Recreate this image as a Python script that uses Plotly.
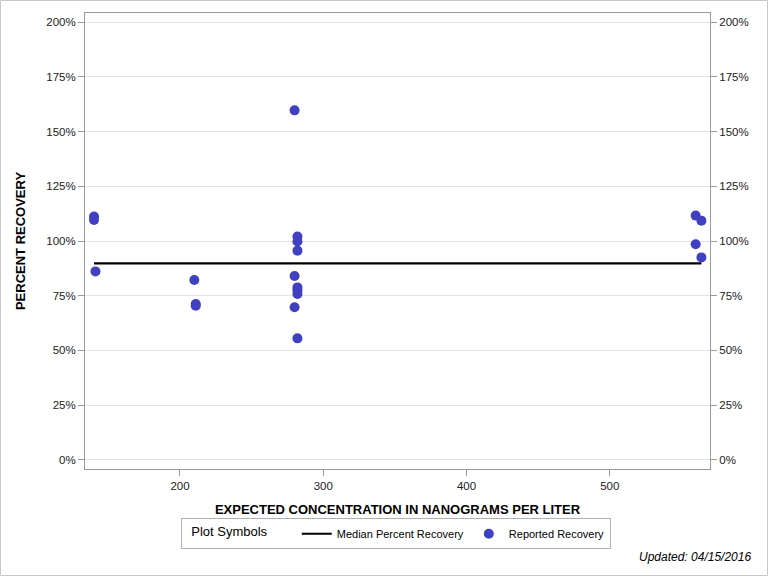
import plotly.graph_objects as go

# Reported recovery data (expected concentration ng/L, percent recovery)
conc = [140, 140, 141, 210, 211, 211, 280, 280, 280, 282, 282, 282, 282, 282, 282, 282, 560, 560, 564, 564]
recovery = [111.2, 109.6, 86.1, 82.2, 71.2, 70.4, 159.7, 84.0, 69.7, 102.0, 99.8, 95.6, 78.8, 77.5, 75.8, 55.5, 111.6, 98.5, 109.3, 92.5]

median_x = [140, 564]
median_y = [89.8, 89.8]

y_ticks = [0, 25, 50, 75, 100, 125, 150, 175, 200]
y_ticklabels = [f"{v}%" for v in y_ticks]
x_ticks = [200, 300, 400, 500]

FONT = "Liberation Sans, Arial, sans-serif"
AXCOL = "#9a9a9a"

fig = go.Figure()
fig.add_trace(go.Scatter(
    x=median_x, y=median_y, mode="lines",
    line=dict(color="black", width=2.2),
    name="Median Percent Recovery",
))
fig.add_trace(go.Scatter(
    x=conc, y=recovery, mode="markers",
    marker=dict(color="#4040c0", size=10, line=dict(width=0)),
    name="Reported Recovery",
))
# invisible trace for right axis
fig.add_trace(go.Scatter(
    x=[median_x[0]], y=[median_y[0]], yaxis="y2", mode="markers",
    marker=dict(opacity=0), showlegend=False, hoverinfo="skip",
))

yrange = [-4.2, 204.2]
fig.update_layout(
    width=768, height=576,
    margin=dict(l=85, r=58, t=13, b=107, autoexpand=False),
    paper_bgcolor="white", plot_bgcolor="white",
    font=dict(family=FONT, size=11, color="black"),
    xaxis=dict(
        range=[133.7, 570], tickvals=x_ticks, ticks="outside", ticklen=6,
        tickcolor=AXCOL, showline=True, linecolor=AXCOL, linewidth=1, mirror=True,
        showgrid=False, zeroline=False, automargin=False,
        tickfont=dict(size=11.5, family=FONT, color="#222"),
        title=dict(text="<b>EXPECTED CONCENTRATION IN NANOGRAMS PER LITER</b>",
                   font=dict(size=13, family=FONT), standoff=14),
    ),
    yaxis=dict(
        range=yrange, tickvals=y_ticks, ticktext=y_ticklabels, ticks="outside", ticklen=6,
        tickcolor=AXCOL, showline=True, linecolor=AXCOL, linewidth=1,
        showgrid=True, gridcolor="#e3e3e3", zeroline=False, automargin=False,
        tickfont=dict(size=11.5, family=FONT, color="#222"),
        title=dict(text="<b>PERCENT RECOVERY</b>", font=dict(size=13, family=FONT), standoff=17),
    ),
    yaxis2=dict(
        range=yrange, tickvals=y_ticks, ticktext=y_ticklabels, ticks="outside", ticklen=6,
        tickcolor=AXCOL, showline=True, linecolor=AXCOL, linewidth=1,
        overlaying="y", side="right", showgrid=False, zeroline=False, automargin=False,
        tickfont=dict(size=11.5, family=FONT, color="#222"),
    ),
    legend=dict(
        orientation="h", x=0.4976, xanchor="center", y=-0.108, yanchor="top",
        bordercolor="#b0b0b0", borderwidth=1, bgcolor="white",
        font=dict(size=11, family=FONT),
        title=dict(text="  Plot Symbols      ", side="left", font=dict(size=13, family=FONT)),
        itemwidth=30, itemsizing="trace", tracegroupgap=0,
    ),
    showlegend=True,
    annotations=[dict(
        text="<i>Updated: 04/15/2016</i>", xref="paper", yref="paper",
        x=1.068, y=-0.193, xanchor="right", yanchor="middle", showarrow=False,
        font=dict(size=12, family=FONT),
    )],
    shapes=[dict(
        type="rect", xref="paper", yref="paper",
        x0=-84.5/625, x1=(767.5-85)/625, y0=(469-575.5)/456, y1=(469-0.5)/456,
        line=dict(color="#c8c8c8", width=1), fillcolor="rgba(0,0,0,0)", layer="below",
    )],
)

fig.write_html(
    "out.html",
    config={"displayModeBar": False},
    post_script="document.body.style.margin='0';document.body.style.padding='0';",
)
